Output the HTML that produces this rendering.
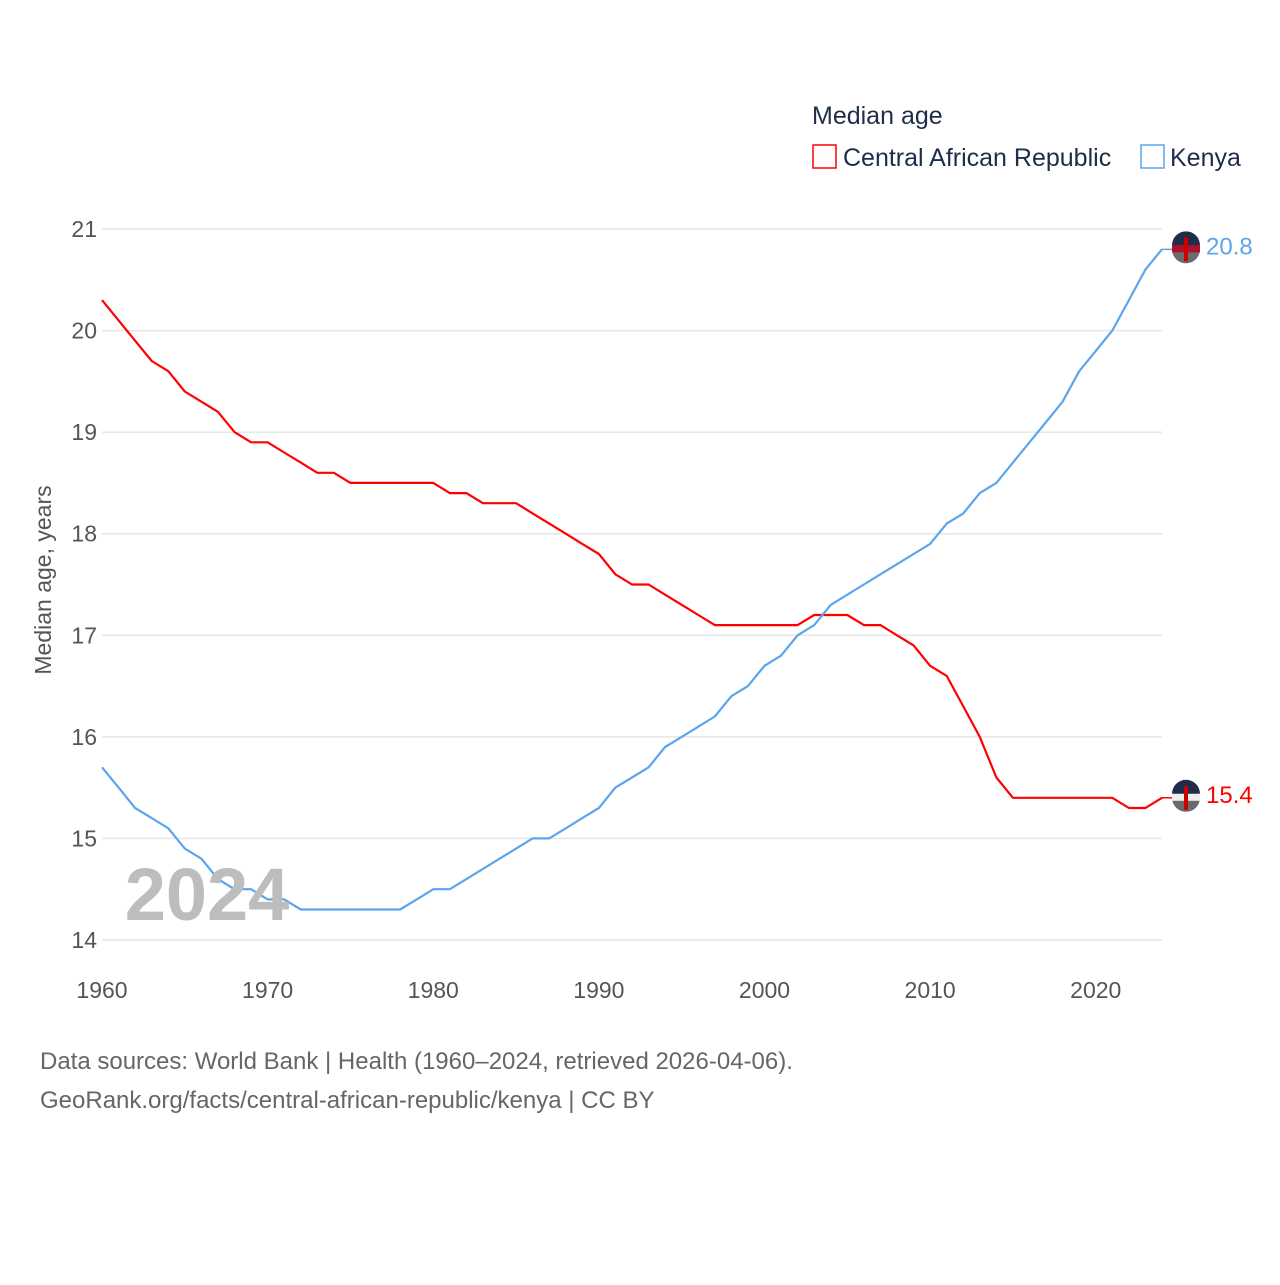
<!DOCTYPE html>
<html><head><meta charset="utf-8"><style>
body{margin:0;background:#fff;}
svg text{font-family:"Liberation Sans",sans-serif;}
</style></head><body>
<svg width="1280" height="1280" viewBox="0 0 1280 1280" id="chart">
<rect width="1280" height="1280" fill="#fff"/>
<text x="812" y="124" font-size="25" fill="#1f2d4a">Median age</text>
<g><rect x="813" y="145" width="23" height="23" fill="none" stroke="#f00" stroke-width="1.5"/><text x="843" y="166" font-size="25" fill="#1f2d4a">Central African Republic</text></g>
<g><rect x="1141" y="145" width="23" height="23" fill="none" stroke="#5aa5ec" stroke-width="1.5"/><text x="1170" y="166" font-size="25" fill="#1f2d4a">Kenya</text></g>
<g id="grid"></g><g id="series"></g>
<text x="207" y="920" font-size="74" font-weight="bold" fill="#bdbdbd" text-anchor="middle">2024</text>
<text transform="translate(51,580) rotate(-90)" font-size="23" fill="#555" text-anchor="middle">Median age, years</text>
<text x="40" y="1069" font-size="24" fill="#666">Data sources: World Bank | Health (1960–2024, retrieved 2026-04-06).</text>
<text x="40" y="1108" font-size="24" fill="#666">GeoRank.org/facts/central-african-republic/kenya | CC BY</text>
</svg>
<script>
const years=[];for(let y=1960;y<=2024;y++)years.push(y);
const carValues=[20.3,20.1,19.9,19.7,19.6,19.4,19.3,19.2,19.0,18.9,18.9,18.8,18.7,18.6,18.6,18.5,18.5,18.5,18.5,18.5,18.5,18.4,18.4,18.3,18.3,18.3,18.2,18.1,18.0,17.9,17.8,17.6,17.5,17.5,17.4,17.3,17.2,17.1,17.1,17.1,17.1,17.1,17.1,17.2,17.2,17.2,17.1,17.1,17.0,16.9,16.7,16.6,16.3,16.0,15.6,15.4,15.4,15.4,15.4,15.4,15.4,15.4,15.3,15.3,15.4];
const kenyaValues=[15.7,15.5,15.3,15.2,15.1,14.9,14.8,14.6,14.5,14.5,14.4,14.4,14.3,14.3,14.3,14.3,14.3,14.3,14.3,14.4,14.5,14.5,14.6,14.7,14.8,14.9,15.0,15.0,15.1,15.2,15.3,15.5,15.6,15.7,15.9,16.0,16.1,16.2,16.4,16.5,16.7,16.8,17.0,17.1,17.3,17.4,17.5,17.6,17.7,17.8,17.9,18.1,18.2,18.4,18.5,18.7,18.9,19.1,19.3,19.6,19.8,20.0,20.3,20.6,20.8];
const yTicks=[14,15,16,17,18,19,20,21];
const xTicks=[1960,1970,1980,1990,2000,2010,2020];
const X=v=>102+(v-1960)*(1162-102)/64;
const Y=v=>940-(v-14)*(940-229)/7;
const NS='http://www.w3.org/2000/svg';
const grid=document.getElementById('grid'),ser=document.getElementById('series');
function mk(tag,attrs,parent){const e=document.createElementNS(NS,tag);for(const k in attrs)e.setAttribute(k,attrs[k]);parent.appendChild(e);return e;}
yTicks.forEach(t=>{
 const l=mk('line',{x1:102,x2:1162,y1:Y(t),y2:Y(t),stroke:'#e6e6e6','stroke-width':1.5},grid);
 
 
 const tx=mk('text',{x:97,y:Y(t)+8,'font-size':23,fill:'#555','text-anchor':'end'},grid);tx.textContent=t;
 
 
});
xTicks.forEach(t=>{
 const tx=mk('text',{x:X(t),y:998,'font-size':23,fill:'#555','text-anchor':'middle'},grid);tx.textContent=t;
 
 
});
function line(vals,color,name){
 const d=vals.map((v,i)=>(i?'L':'M')+X(years[i]).toFixed(1)+' '+Y(v).toFixed(1)).join(' ');
 const p=mk('path',{d:d,fill:'none',stroke:color,'stroke-width':2.2,'stroke-linejoin':'round'},ser);
 
 
 const last=vals[vals.length-1],cy=Y(last),cx=1186;
 const g=mk('g',{},ser);
 
 
 mk('line',{x1:1162,x2:cx,y1:cy,y2:cy,stroke:color,'stroke-width':1.5},g);
 mk('circle',{cx:cx,cy:cy,r:14,fill:'#6b6b6b'},g);
 mk('path',{d:`M${cx-14} ${cy-4} A14 14 0 0 1 ${cx+14} ${cy-4} Z`,fill:'#1f2d4a'},g);
 mk('rect',{x:cx-14,y:cy-4,width:28,height:7,fill:name==='kenya'?'#b0102a':'#eee'},g);
 mk('rect',{x:cx-2,y:cy-12,width:4,height:24,fill:'#c00'},g);
 const t=mk('text',{x:1206,y:cy+5,'font-size':24,fill:color},ser);t.textContent=last.toFixed(1);
 
 
}
line(carValues,'#f00','car');
line(kenyaValues,'#5aa5ec','kenya');
</script>
</body></html>
